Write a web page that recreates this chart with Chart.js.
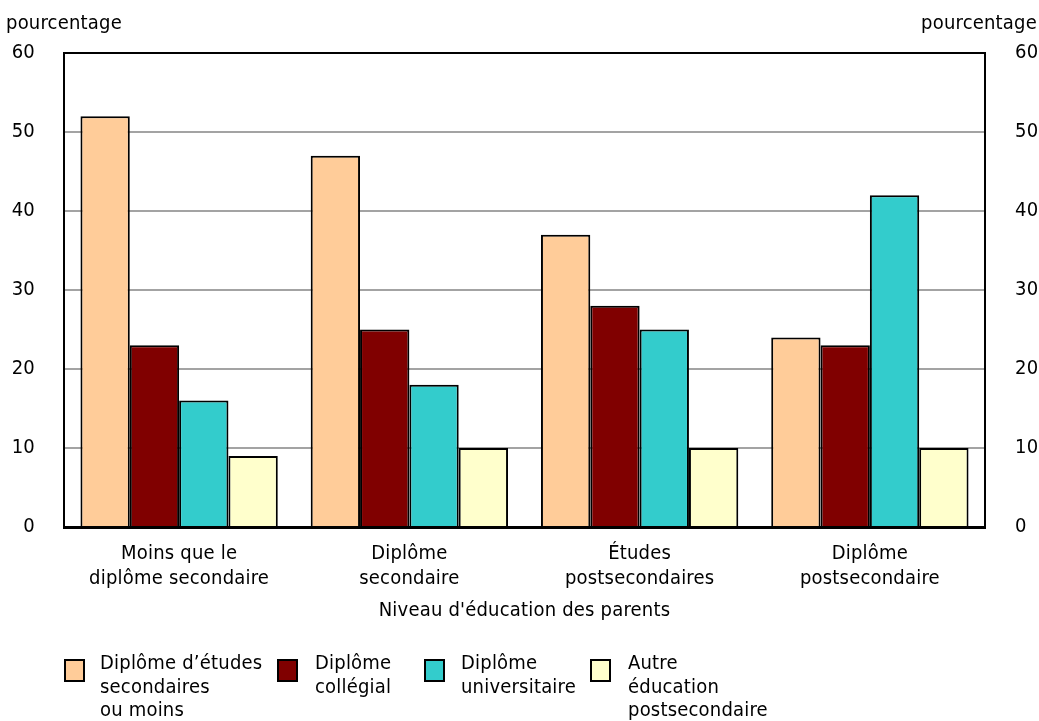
<!DOCTYPE html>
<html><head><meta charset="utf-8">
<script src="https://cdn.jsdelivr.net/npm/chart.js@4"></script>
<style>
html,body{margin:0;padding:0;background:#fff;}
#wrap{position:relative;width:1039px;height:721px;overflow:hidden;}
canvas{position:absolute;left:0;top:0;}
.txt{position:absolute;font-family:"Liberation Sans Narrow","DejaVu Sans Condensed",sans-serif;font-size:20px;letter-spacing:0.2px;color:#000;line-height:24px;white-space:nowrap;}
.box{position:absolute;width:17px;height:19px;border:2px solid #000;}
</style></head><body>
<div id="wrap"><canvas id="c" width="1039" height="721"></canvas></div>
<script>
const categories = [["Moins que le","diplôme secondaire"],["Diplôme","secondaire"],["Études","postsecondaires"],["Diplôme","postsecondaire"]];
const seriesNames = [["Diplôme d’études","secondaires","ou moins"],["Diplôme","collégial"],["Diplôme","universitaire"],["Autre","éducation","postsecondaire"]];
const secondaireOuMoins = [52,47,37,24];
const collegial = [23,25,28,23];
const universitaire = [16,18,25,42];
const autre = [9,10,10,10];
const yTicks = [0,10,20,30,40,50,60];
const axisTitle = "Niveau d'éducation des parents";
const unitLabel = "pourcentage";
const colors = ["#FFCC99","#800000","#33CCCC","#FFFFCC"];

const FONT = '"Liberation Sans Narrow","DejaVu Sans Condensed",sans-serif';
const SP = '0.2px';
const spacing = {id:'spacing',
  beforeUpdate(c){c.ctx.letterSpacing=SP;},
  beforeLayout(c){c.ctx.letterSpacing=SP;},
  beforeDraw(c){c.ctx.letterSpacing=SP;}};

const seriesValues = [secondaireOuMoins, collegial, universitaire, autre];
const datasets = seriesValues.map((v,i)=>({
  label: seriesNames[i].join(' '),
  data: v,
  backgroundColor: colors[i],
  borderColor: '#000',
  borderWidth: 2,
  borderSkipped: 'bottom',
  categoryPercentage: 0.857,
  barPercentage: 1.0,
  yAxisID: 'y'
}));

new Chart(document.getElementById('c'), {
  type: 'bar',
  data: {labels: categories, datasets},
  plugins: [spacing],
  options: {
    responsive: false, devicePixelRatio: 1, animation: false,
    layout: {padding: {top: 53, bottom: 98, left: 0, right: 0}},
    plugins: {legend: {display: false}, tooltip: {enabled: false}},
    scales: {
      x: {
        grid: {display: false},
        border: {display: true, color: '#000', width: 3},
        ticks: {color: '#000', font: {family: FONT, size: 20, lineHeight: 1.25}, padding: 6, maxRotation: 0, autoSkip: false},
        title: {display: true, text: axisTitle, color: '#000', font: {family: FONT, size: 20}, padding: 0},
        afterFit(s){ s.height = 96; }
      },
      y: {
        position: 'left', min: 0, max: 60,
        afterBuildTicks(s){ s.ticks = yTicks.map(v=>({value:v})); },
        grid: {
          color: c => c.tick.value===60 ? '#000' : (c.tick.value===0 ? 'rgba(0,0,0,0)' : '#a3a3a3'),
          lineWidth: 2,
          drawTicks: false
        },
        border: {display: true, color: '#000', width: 2},
        ticks: {color: '#000', font: {family: FONT, size: 20}, padding: 29},
        afterFit(s){ s.width = 64; }
      },
      y2: {
        position: 'right', min: 0, max: 60,
        afterBuildTicks(s){ s.ticks = yTicks.map(v=>({value:v})); },
        grid: {display: false, drawTicks: false},
        border: {display: true, color: '#000', width: 2},
        ticks: {color: '#000', font: {family: FONT, size: 20}, padding: 30},
        afterFit(s){ s.width = 54; }
      }
    }
  }
});

const wrap = document.getElementById('wrap');
function addText(t, css){ const d=document.createElement('div'); d.className='txt'; d.innerHTML=t; Object.assign(d.style, css); wrap.appendChild(d); return d; }
addText(unitLabel, {left:'6px', top:'10px'});
addText(unitLabel, {right:'2px', top:'10px'});
const boxX = [64,277,424,590];
const textX = [100,315,461,628];
seriesNames.forEach((n,i)=>{
  const b=document.createElement('div'); b.className='box';
  b.style.left=boxX[i]+'px'; b.style.top='659px'; b.style.background=colors[i];
  wrap.appendChild(b);
  addText(n.join('<br>'), {left:textX[i]+'px', top:'651px', lineHeight:'23.5px'});
});
</script>
</body></html>
